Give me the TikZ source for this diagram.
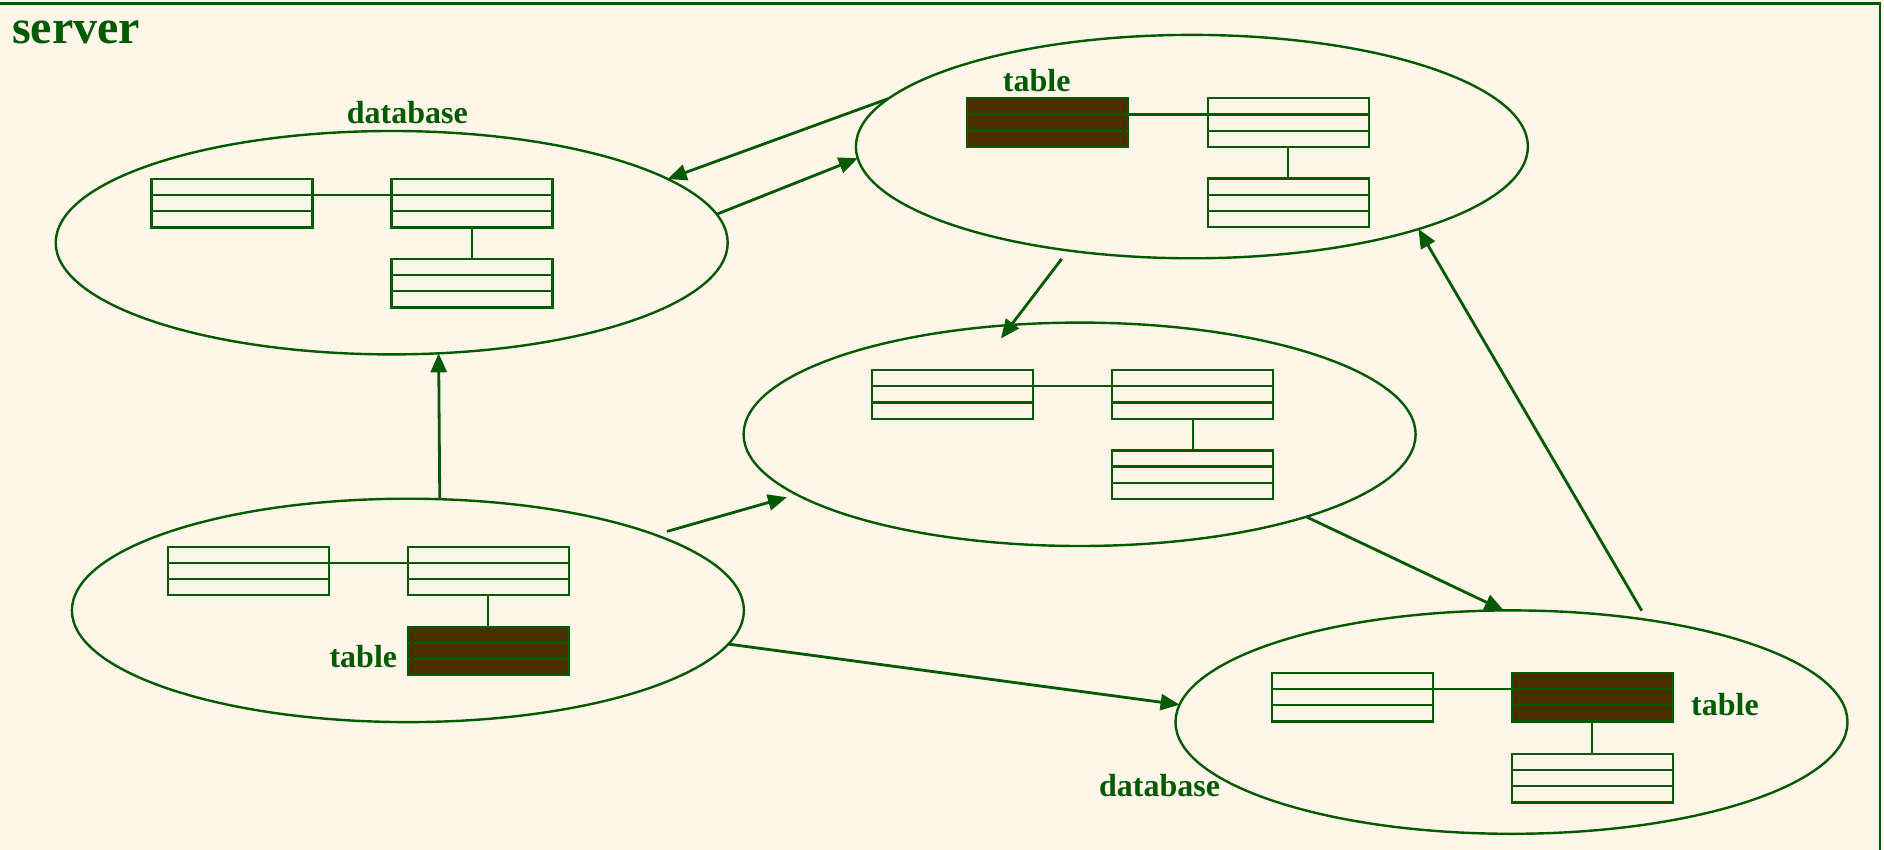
\documentclass[tikz,border=0pt]{standalone}
\usepackage{fontspec}
\setmainfont{Liberation Serif}
\usetikzlibrary{shapes.geometric,arrows.meta}
\definecolor{bg}{HTML}{FFF5E9}
\definecolor{dg}{HTML}{005A00}
\definecolor{br}{HTML}{4A3000}
\begin{document}
\begin{tikzpicture}[x=1pt,y=-1pt,
  db/.style={ellipse, draw=dg, line width=2.4pt, minimum width=672pt, minimum height=223.4pt, inner sep=0pt, outer sep=0pt},
  tbl/.style={rectangle, draw=dg, line width=2.2pt, minimum width=161pt, minimum height=48.5pt, inner sep=0pt, outer sep=0pt, anchor=north west,
    path picture={\draw[dg,line width=2.2pt]
      ([yshift=-16.17pt]path picture bounding box.north west) -- ([yshift=-16.17pt]path picture bounding box.north east)
      ([yshift=16.17pt]path picture bounding box.south west) -- ([yshift=16.17pt]path picture bounding box.south east);}},
  dark/.style={tbl, fill=br},
  conn/.style={draw=dg, line width=2.2pt},
  arr/.style={draw=dg, line width=2.8pt, -{Triangle[length=19pt,width=16pt]}},
  lbl/.style={text=dg, font=\bfseries\fontsize{32}{32}\selectfont, inner sep=0pt, anchor=base}
]
\fill[bg] (0,0) rectangle (1884,850);
\useasboundingbox (0,0) rectangle (1884,850);
\draw[dg, line width=2.5pt] (0,3.3) -- (1880,3.3) -- (1880,850);

\node[lbl, anchor=base west, font=\bfseries\fontsize{48}{48}\selectfont] (srv) at (12,43.3) {server};

% ellipses
\node[db] (e1) at (391.7,242.7) {};
\node[db] (e2) at (1191.9,146.6) {};
\node[db] (e3) at (1079.6,434.3) {};
\node[db] (e4) at (407.9,610.4) {};
\node[db] (e5) at (1511.5,722.1) {};

% tables E1
\node[tbl] (e1a) at (151.4,179) {};
\node[tbl] (e1b) at (391.4,179) {};
\node[tbl] (e1c) at (391.4,259) {};
% tables E2
\node[dark] (e2a) at (967.3,98.3) {};
\node[tbl] (e2b) at (1207.7,98.3) {};
\node[tbl] (e2c) at (1207.7,178.6) {};
% tables E3
\node[tbl] (e3a) at (872.3,370.1) {};
\node[tbl] (e3b) at (1112.3,370.1) {};
\node[tbl] (e3c) at (1112.3,450.4) {};
% tables E4
\node[tbl] (e4a) at (167.7,546.7) {};
\node[tbl] (e4b) at (407.7,546.7) {};
\node[dark] (e4c) at (407.7,626.7) {};
% tables E5
\node[tbl] (e5a) at (1271.7,673) {};
\node[dark] (e5b) at (1511.7,673) {};
\node[tbl] (e5c) at (1511.7,754) {};

\foreach \e in {e1,e2,e3,e4,e5}{
  \draw[conn] ([yshift=-16.17pt]\e a.north east) -- ([yshift=-16.17pt]\e b.north west);
  \draw[conn] (\e b.south) -- (\e c.north);
}

% labels
\node[lbl] (l1) at (407.3,124) {database};
\node[lbl] (l2) at (1036.7,91.7) {table};
\node[lbl, anchor=base east] (l3) at (397.3,667.3) {table};
\node[lbl, anchor=base west] (l4) at (1691,715) {table};
\node[lbl] (l5) at (1159.6,796.6) {database};

% arrows
\draw[arr] (e2.171.81) -- (e1.13.21);
\draw[arr] (e1.5.93) -- (e2.182.74);
\draw[arr, shorten <=10.6pt, shorten >=-17pt] (e2.220.46) -- (e3.122.04);
\draw[arr] (e4.74.1) -- (e1.293.47);
\draw[arr, shorten <=12.3pt, shorten >=10pt] (e4.17.45) -- (e3.192.68);
\draw[arr] (e4.354.17) -- (e5.177.35);
\draw[arr] (e3.340.28) -- (e5.94.18);
\draw[arr, shorten <=10.7pt] (e5.37.42) -- (e2.340.12);
\end{tikzpicture}
\end{document}
